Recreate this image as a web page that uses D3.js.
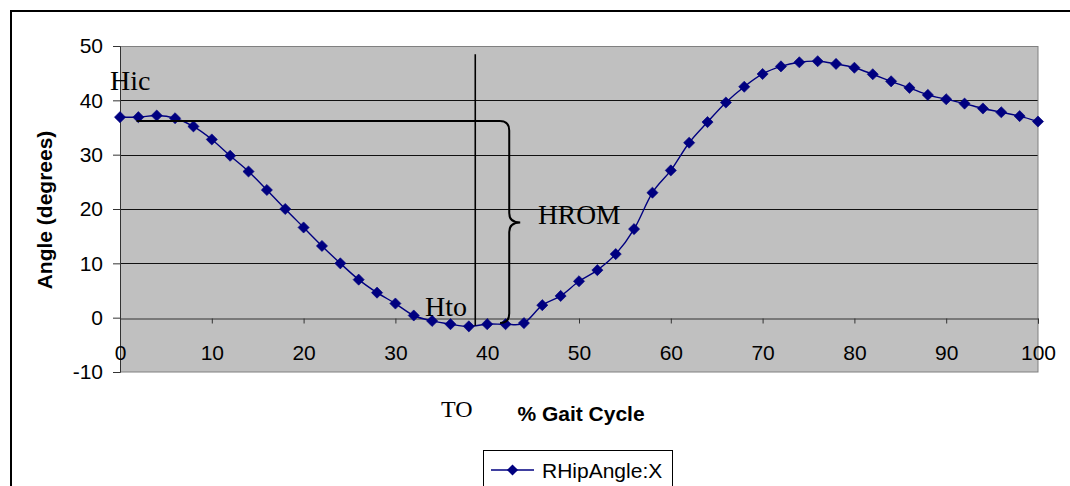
<!DOCTYPE html>
<html><head><meta charset="utf-8">
<script src="https://cdn.jsdelivr.net/npm/d3@7"></script>
<style>body{margin:0;background:#fff}svg{display:block}</style>
</head><body>
<svg id="c" width="1070" height="486"></svg>
<script>
const gaitPct = [0,2,4,6,8,10,12,14,16,18,20,22,24,26,28,30,32,34,36,38,40,42,44,46,48,50,52,54,56,58,60,62,64,66,68,70,72,74,76,78,80,82,84,86,88,90,92,94,96,98,100];
const rHipAngle = [36.9,36.9,37.2,36.7,35.2,32.8,29.8,26.9,23.5,20.0,16.6,13.2,10.0,7.0,4.6,2.6,0.4,-0.6,-1.2,-1.6,-1.2,-1.2,-1.0,2.3,4.0,6.7,8.75,11.7,16.3,23.0,27.1,32.2,36.0,39.6,42.5,44.85,46.25,47.0,47.2,46.7,46.0,44.8,43.5,42.3,41.0,40.2,39.4,38.5,37.8,37.1,36.1];
const xTicks = [0,10,20,30,40,50,60,70,80,90,100];
const yTicks = [-10,0,10,20,30,40,50];
const seriesName = "RHipAngle:X";
const xTitle = "% Gait Cycle";
const yTitle = "Angle (degrees)";
// annotation values (data units)
const toeOffPct = 38.7, toLineTop = 48.5, toLineBottom = -1.5;
const hromStartPct = 1.8, hromEndPct = 41.4, hromBracePct = 42.4, hromTipPct = 43.6;
const hromTop = 36.2, hromMid = 17.5, hromBottom = -1.0;

const svg = d3.select("#c");
const L = 120, R = 1038, T = 46, B = 372;
const x = d3.scaleLinear().domain([0,100]).range([L,R]);
const y = d3.scaleLinear().domain([-10,50]).range([B,T]);
const sans = "'Liberation Sans', Arial, sans-serif";
const serif = "'Liberation Serif', 'Times New Roman', serif";

// outer frame
svg.append("rect").attr("x",11).attr("y",11).attr("width",1200).attr("height",600)
  .attr("fill","none").attr("stroke","#000").attr("stroke-width",2);

// plot area
svg.append("rect").attr("x",L).attr("y",T).attr("width",R-L).attr("height",B-T).attr("fill","#c0c0c0");
// gridlines
svg.append("g").selectAll("line").data(yTicks.filter(v=>v>-10 && v<50 && v!==0)).join("line")
  .attr("x1",L).attr("x2",R).attr("y1",d=>Math.round(y(d))+0.5).attr("y2",d=>Math.round(y(d))+0.5)
  .attr("stroke","#111").attr("stroke-width",1);
// plot border
svg.append("rect").attr("x",L+0.5).attr("y",T+0.5).attr("width",R-L-0.5).attr("height",B-T-0.5)
  .attr("fill","none").attr("stroke","#808080").attr("stroke-width",1);

// y axis
const yAxis = svg.append("g").attr("transform",`translate(${L},0)`)
  .call(d3.axisLeft(y).tickValues(yTicks).tickSize(7).tickPadding(10).tickFormat(d=>String(d)));
yAxis.select(".domain").attr("stroke","#333");
yAxis.selectAll(".tick line").attr("stroke","#333");
yAxis.selectAll("text").attr("font-family",sans).attr("font-size",21).attr("fill","#000");

// x axis at y=0
const xAxis = svg.append("g").attr("transform",`translate(0,${Math.round(y(0))+0.5})`)
  .call(d3.axisBottom(x).tickValues(xTicks).tickSize(5).tickPadding(22).tickFormat(d=>String(d)));
xAxis.select(".domain").attr("stroke","#333");
xAxis.selectAll(".tick line").attr("stroke","#333");
xAxis.selectAll("text").attr("font-family",sans).attr("font-size",21).attr("fill","#000");

// series
const pts = gaitPct.map((g,i)=>[g,rHipAngle[i]]);
svg.append("path").datum(pts)
  .attr("d",d3.line().x(d=>x(d[0])).y(d=>y(d[1])).curve(d3.curveCardinal.tension(0)))
  .attr("fill","none").attr("stroke","#000080").attr("stroke-width",1.4);
const diamond = d3.symbol().type(d3.symbolSquare).size(62);
svg.append("g").selectAll("path").data(pts).join("path")
  .attr("d",diamond)
  .attr("transform",d=>`translate(${x(d[0])},${y(d[1])}) rotate(45)`)
  .attr("fill","#000080").attr("stroke","#000080").attr("stroke-width",0.6);

// annotations
svg.append("line").attr("x1",x(toeOffPct)).attr("x2",x(toeOffPct))
  .attr("y1",y(toLineTop)).attr("y2",y(toLineBottom)).attr("stroke","#000").attr("stroke-width",1.6);
svg.append("line").attr("x1",x(hromStartPct)).attr("x2",x(hromEndPct))
  .attr("y1",y(hromTop)).attr("y2",y(hromTop)).attr("stroke","#000").attr("stroke-width",2);
const bx = x(hromBracePct), sx = x(hromEndPct), tx = x(hromTipPct);
const yt = y(hromTop), ym = y(hromMid), yb = y(hromBottom);
const r = 9.5;
const brace = `M${sx},${yt} Q${bx},${yt} ${bx},${yt+r} L${bx},${ym-r} Q${bx},${ym} ${tx},${ym} Q${bx},${ym} ${bx},${ym+r} L${bx},${yb-r} Q${bx},${yb} ${sx},${yb}`;
svg.append("path").attr("d",brace).attr("fill","none").attr("stroke","#000").attr("stroke-width",2);

const lab = (t,px,py,fs,fam,weight,anchor)=>svg.append("text").text(t).attr("x",px).attr("y",py)
  .attr("font-size",fs).attr("font-family",fam).attr("font-weight",weight||"normal")
  .attr("text-anchor",anchor||"start").attr("fill","#000");
lab("Hic",110,90,28,serif);
lab("Hto",425,316,28,serif);
lab("HROM",538,224,27.5,serif);
lab("TO",441,417,24,serif);
lab(xTitle,581,421,21,sans,"bold","middle");
svg.append("text").text(yTitle).attr("transform","translate(52,210) rotate(-90)")
  .attr("text-anchor","middle").attr("font-family",sans).attr("font-size",21).attr("font-weight","bold").attr("fill","#000");

// legend
svg.append("rect").attr("x",483.5).attr("y",450.5).attr("width",189).attr("height",60)
  .attr("fill","#fff").attr("stroke","#000").attr("stroke-width",1);
svg.append("line").attr("x1",491).attr("x2",534).attr("y1",470).attr("y2",470).attr("stroke","#000080").attr("stroke-width",1.4);
svg.append("path").attr("d",diamond).attr("transform","translate(512.5,470) rotate(45)").attr("fill","#000080");
lab(seriesName,542,478,21,sans);
</script>
</body></html>
